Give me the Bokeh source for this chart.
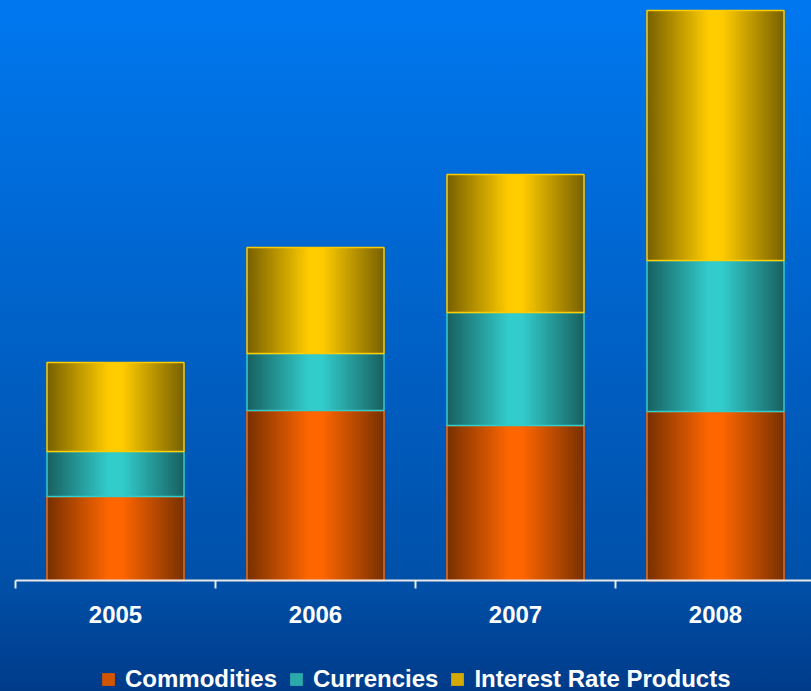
import numpy as np
from bokeh.plotting import figure
from bokeh.models import Range1d, FixedTicker, Legend, LegendItem, ColumnDataSource
from bokeh.embed import file_html
from bokeh.resources import INLINE

# ---- data ----
years = ["2005", "2006", "2007", "2008"]
commodities = [84, 170, 155, 169]
currencies = [45, 57, 113, 151]
interest_rate_products = [89, 106, 138, 250]

series_names = ["Commodities", "Currencies", "Interest Rate Products"]
series_values = [commodities, currencies, interest_rate_products]
series_colors = [(255, 102, 0), (51, 204, 204), (255, 204, 0)]

BAR_WIDTH = 0.685
N_STRIPS = 60
FONT = "Liberation Sans"

p = figure(frame_width=811, frame_height=691, output_backend="svg", toolbar_location=None,
           x_range=Range1d(0.425, 4.48), y_range=Range1d(-111, 580),
           y_axis_location=None,
           min_border_left=0, min_border_right=0, min_border_top=0, min_border_bottom=0)
p.grid.visible = False
p.background_fill_color = None
p.border_fill_color = None
p.outline_line_color = None
p.styles = {"background": "linear-gradient(180deg, #0078f0 0px, #0050a8 580px, #003b8a 691px)"}


def shade(rgb, f):
    return "#%02x%02x%02x" % tuple(int(round(c * f)) for c in rgb)


def profile(t):
    # t in [0,1]: 0 centre, 1 edge
    return 0.47 + 0.53 * min(1.0, (1.0 - t) / 0.9)


x_centers = np.arange(1, len(years) + 1, dtype=float)
bottoms = np.zeros(len(years))
legend_items = []
edges = np.linspace(-0.5, 0.5, N_STRIPS + 1)
for name, vals, rgb in zip(series_names, series_values, series_colors):
    vals = np.array(vals, dtype=float)
    tops = bottoms + vals
    L, R, B, T, C = [], [], [], [], []
    for i, xc in enumerate(x_centers):
        for j in range(N_STRIPS):
            a, b = edges[j], edges[j + 1]
            t = abs((a + b) / 2) * 2
            L.append(xc + a * BAR_WIDTH)
            R.append(xc + b * BAR_WIDTH + (0.007 if j < N_STRIPS - 1 else 0.0))
            B.append(bottoms[i])
            T.append(tops[i])
            C.append(shade(rgb, profile(t)))
    src = ColumnDataSource(dict(left=L, right=R, bottom=B, top=T, color=C))
    strips = p.quad(left="left", right="right", bottom="bottom", top="top", source=src,
                    fill_color="color", line_color=None)
    outline = p.quad(left=x_centers - BAR_WIDTH / 2, right=x_centers + BAR_WIDTH / 2,
                     bottom=bottoms.copy(), top=tops.copy(), fill_color=None,
                     line_color=shade(rgb, 1.0), line_width=1.5)
    legend_items.append(LegendItem(label=name, renderers=[strips, outline], index=int(N_STRIPS * 0.3)))
    bottoms = tops

xa = p.xaxis[0]
xa.fixed_location = 0
xa.ticker = FixedTicker(ticks=list(x_centers), minor_ticks=[0.5, 1.5, 2.5, 3.5, 4.5])
xa.major_label_overrides = {float(x): y for x, y in zip(x_centers, years)}
xa.bounds = (0.5, 4.5)
xa.axis_line_color = "#e8e8e8"
xa.axis_line_width = 2
xa.major_tick_line_color = None
xa.major_tick_out = 0
xa.major_tick_in = 0
xa.minor_tick_line_color = "#e8e8e8"
xa.minor_tick_line_width = 2
xa.minor_tick_out = 8
xa.minor_tick_in = 0
xa.major_label_standoff = 17
xa.major_label_text_color = "white"
xa.major_label_text_font = FONT
xa.major_label_text_font_style = "bold"
xa.major_label_text_font_size = "24px"

legend = Legend(items=legend_items, orientation="horizontal", location=(100, -2),
                label_text_font=FONT, label_text_font_style="bold",
                label_text_font_size="24px", label_text_color="white",
                glyph_width=16, glyph_height=16, label_height=20, label_standoff=9, spacing=11,
                padding=0, margin=0, border_line_color=None, background_fill_alpha=0)
p.add_layout(legend)

open("out.html", "w").write(file_html(p, INLINE))
